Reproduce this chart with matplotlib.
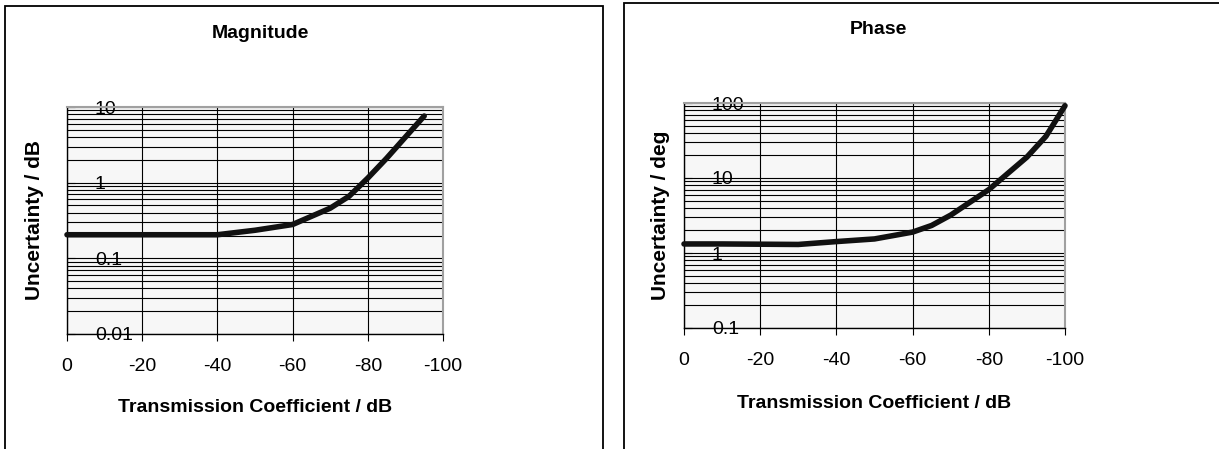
import numpy as np
import matplotlib.pyplot as plt
from matplotlib.patches import Rectangle
from matplotlib.ticker import LogLocator, NullFormatter

# data
mag_x = [0, -10, -20, -30, -40, -50, -60, -70, -75, -80, -85, -90, -95]
mag_y = [0.205, 0.205, 0.205, 0.205, 0.205, 0.235, 0.28, 0.46, 0.66, 1.15, 2.1, 4.0, 7.6]

ph_x = [0, -10, -20, -30, -40, -50, -60, -65, -70, -80, -90, -95, -100]
ph_y = [1.32, 1.32, 1.31, 1.3, 1.42, 1.54, 1.9, 2.33, 3.2, 7.0, 19.0, 36.0, 92.0]

x_ticks = [0, -20, -40, -60, -80, -100]
mag_yticks = [0.01, 0.1, 1, 10]
mag_ylabels = ["0.01", "0.1", "1", "10"]
ph_yticks = [0.1, 1, 10, 100]
ph_ylabels = ["0.1", "1", "10", "100"]

W, H = 1219, 449
plt.rcParams['font.family'] = ['Liberation Sans', 'DejaVu Sans']
fig = plt.figure(figsize=(W / 100, H / 100), dpi=100)


def px_box(x0, y0, x1, y1):
    return [x0 / W, 1 - y1 / H, (x1 - x0) / W, (y1 - y0) / H]


# panel frames
fig.patches.append(Rectangle((5 / W, -0.1), (603 - 5) / W, 1.1 - 6.5 / H,
                             transform=fig.transFigure, fill=False, lw=1.3, ec='black'))
fig.patches.append(Rectangle((624 / W, -0.1), 1.0, 1.1 - 3 / H,
                             transform=fig.transFigure, fill=False, lw=1.3, ec='black'))


def panel(box, xs, ys, yticks, ylabels, title, ylabel, title_xy, xlabel_y, ylabel_x):
    ax = fig.add_axes(px_box(*box))
    ax.set_facecolor('#f7f7f7')
    ax.set_yscale('log')
    ax.set_xlim(0, -100)
    ax.set_ylim(yticks[0], yticks[-1])
    ax.yaxis.set_minor_locator(LogLocator(base=10, subs=np.arange(2, 10)))
    ax.yaxis.set_minor_formatter(NullFormatter())
    ax.set_yticks(yticks)
    ax.set_yticklabels(ylabels)
    ax.set_xticks(x_ticks)
    ax.set_xticklabels([str(t) for t in x_ticks])
    ax.grid(True, which='both', axis='y', color='black', lw=0.8)
    ax.grid(True, which='major', axis='x', color='black', lw=0.8)
    ax.set_axisbelow(True)
    ax.tick_params(axis='x', direction='out', length=5, width=0.8, labelsize=14, pad=12)
    ax.tick_params(axis='y', which='major', direction='in', length=6, width=0.8,
                   labelsize=14, pad=-20)
    for lab in ax.get_yticklabels():
        lab.set_horizontalalignment('left')
    ax.tick_params(axis='y', which='minor', length=0)
    for s in ['top', 'right']:
        ax.spines[s].set_color('#a0a0a0')
        ax.spines[s].set_linewidth(1.5)
    for s in ['left', 'bottom']:
        ax.spines[s].set_color('black')
        ax.spines[s].set_linewidth(1.0)
    ax.plot(xs, ys, color='#111111', lw=4, solid_capstyle='round', zorder=5, clip_on=False)
    fig.text(title_xy[0] / W, 1 - title_xy[1] / H, title, ha='center', va='center',
             fontsize=14, fontweight='bold')
    fig.text((box[0] + box[2]) / 2 / W, 1 - xlabel_y / H, "Transmission Coefficient / dB",
             ha='center', va='center', fontsize=14, fontweight='bold')
    fig.text(ylabel_x / W, 1 - (box[1] + box[3]) / 2 / H, ylabel, rotation=90,
             ha='center', va='center', fontsize=15, fontweight='bold')
    return ax


panel((67, 107, 443, 334), mag_x, mag_y, mag_yticks, mag_ylabels,
      "Magnitude", "Uncertainty / dB", (260, 34), 408, 35)
panel((684, 103, 1065, 328), ph_x, ph_y, ph_yticks, ph_ylabels,
      "Phase", "Uncertainty / deg", (878, 30), 403, 661)

fig.savefig("out.png", dpi=100)
